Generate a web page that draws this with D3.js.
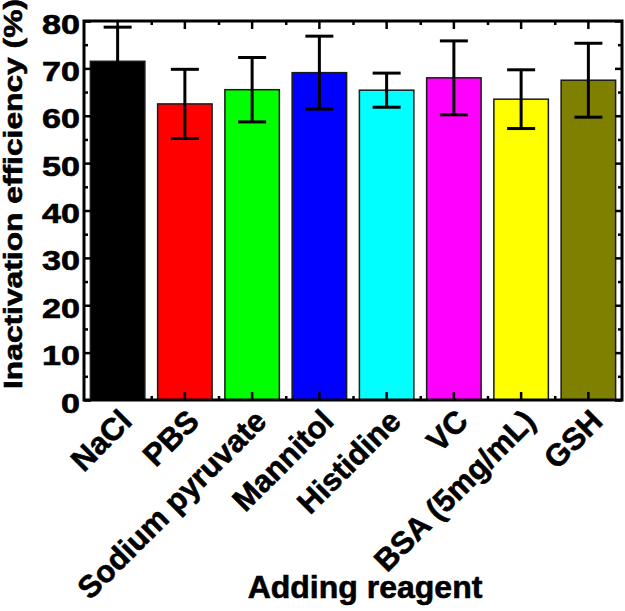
<!DOCTYPE html>
<html>
<head>
<meta charset="utf-8">
<script src="https://cdn.jsdelivr.net/npm/d3@7"></script>
<style>
  body { margin: 0; background: #fff; }
  text { font-family: Arial, "Liberation Sans", sans-serif; font-weight: bold; fill: #000; stroke: #000; stroke-width: 0.6px; }
</style>
</head>
<body>
<div id="chart"></div>
<script>
const categories = ["NaCl", "PBS", "Sodium pyruvate", "Mannitol", "Histidine", "VC", "BSA (5mg/mL)", "GSH"];
const means = [71.5, 62.5, 65.5, 69.1, 65.4, 68.0, 63.5, 67.5];
const errors = [7.2, 7.3, 6.8, 7.7, 3.6, 7.8, 6.2, 7.8];
const colors = ["#000000", "#ff0000", "#00ff00", "#0000ff", "#00ffff", "#ff00ff", "#ffff00", "#808000"];
const yMajor = [0, 10, 20, 30, 40, 50, 60, 70, 80];
const yMinor = [5, 15, 25, 35, 45, 55, 65, 75];

const width = 625, height = 611;
const plotLeft = 84, plotRight = 622, plotTop = 21, plotBottom = 400;

const svg = d3.select("#chart")
  .append("svg")
  .attr("width", width)
  .attr("height", height);

const x = d3.scaleBand()
  .domain(categories)
  .range([plotLeft, plotRight])
  .paddingInner(0.19)
  .paddingOuter(0.095);

const y = d3.scaleLinear()
  .domain([0, 80])
  .range([plotBottom, plotTop]);

// bars
svg.append("g")
  .selectAll("rect")
  .data(categories)
  .enter().append("rect")
  .attr("x", d => x(d))
  .attr("y", (d, i) => y(means[i]))
  .attr("width", x.bandwidth())
  .attr("height", (d, i) => y(0) - y(means[i]))
  .attr("fill", (d, i) => colors[i])
  .attr("stroke", "#1a1a1a")
  .attr("stroke-width", 1.5);

// error bars
const eb = svg.append("g")
  .attr("stroke", "#000")
  .attr("stroke-width", 3)
  .selectAll("g")
  .data(categories)
  .enter().append("g")
  .attr("transform", d => `translate(${x(d) + x.bandwidth() / 2},0)`);

eb.append("line")
  .attr("y1", (d, i) => y(means[i] - errors[i]))
  .attr("y2", (d, i) => y(means[i] + errors[i]));
eb.append("line")
  .attr("x1", -14).attr("x2", 14)
  .attr("y1", (d, i) => y(means[i] + errors[i]))
  .attr("y2", (d, i) => y(means[i] + errors[i]));
eb.append("line")
  .attr("x1", -14).attr("x2", 14)
  .attr("y1", (d, i) => y(means[i] - errors[i]))
  .attr("y2", (d, i) => y(means[i] - errors[i]));

// band boundaries for minor ticks on the category axes
const step = x.step();
const boundaries = d3.range(1, categories.length).map(i => plotLeft + i * step);
const xPos = d3.scaleIdentity().domain([plotLeft, plotRight]);

function styleAxis(g) {
  g.select(".domain").remove();
  g.selectAll(".tick line").attr("stroke-width", 2.5);
}

// left axis
svg.append("g")
  .attr("transform", `translate(${plotLeft},0)`)
  .call(d3.axisLeft(y).tickValues(yMajor).tickSize(-7).tickPadding(4))
  .call(styleAxis)
  .call(g => g.selectAll(".tick text")
    .attr("font-size", 27)
    .attr("dy", 12)
    .attr("textLength", d => String(d).length * 19)
    .attr("lengthAdjust", "spacingAndGlyphs"));

svg.append("g")
  .attr("transform", `translate(${plotLeft},0)`)
  .call(d3.axisLeft(y).tickValues(yMinor).tickSize(-4).tickFormat(""))
  .call(styleAxis);

// right axis
svg.append("g")
  .attr("transform", `translate(${plotRight},0)`)
  .call(d3.axisRight(y).tickValues(yMajor).tickSize(-7).tickFormat(""))
  .call(styleAxis);

svg.append("g")
  .attr("transform", `translate(${plotRight},0)`)
  .call(d3.axisRight(y).tickValues(yMinor).tickSize(-4).tickFormat(""))
  .call(styleAxis);

// bottom axis
svg.append("g")
  .attr("transform", `translate(0,${plotBottom})`)
  .call(d3.axisBottom(x).tickSize(-8))
  .call(styleAxis)
  .call(g => g.selectAll(".tick text")
    .attr("font-size", 31)
    .attr("text-anchor", "end")
    .attr("y", 0)
    .attr("dy", 0)
    .attr("transform", "translate(16,23) rotate(-45)"));

svg.append("g")
  .attr("transform", `translate(0,${plotBottom})`)
  .call(d3.axisBottom(xPos).tickValues(boundaries).tickSize(-4).tickFormat(""))
  .call(styleAxis);

// top axis
svg.append("g")
  .attr("transform", `translate(0,${plotTop})`)
  .call(d3.axisTop(x).tickSize(-8).tickFormat(""))
  .call(styleAxis);

svg.append("g")
  .attr("transform", `translate(0,${plotTop})`)
  .call(d3.axisTop(xPos).tickValues(boundaries).tickSize(-4).tickFormat(""))
  .call(styleAxis);

// frame
svg.append("rect")
  .attr("x", plotLeft)
  .attr("y", plotTop)
  .attr("width", plotRight - plotLeft)
  .attr("height", plotBottom - plotTop)
  .attr("fill", "none")
  .attr("stroke", "#000")
  .attr("stroke-width", 3);

// axis titles
svg.append("text")
  .attr("transform", `translate(22,194) rotate(-90)`)
  .attr("text-anchor", "middle")
  .attr("font-size", 25)
  .attr("textLength", 390)
  .attr("lengthAdjust", "spacingAndGlyphs")
  .text("Inactivation efficiency (%)");

svg.append("text")
  .attr("x", 365)
  .attr("y", 598)
  .attr("text-anchor", "middle")
  .attr("font-size", 32)
  .text("Adding reagent");
</script>
</body>
</html>
